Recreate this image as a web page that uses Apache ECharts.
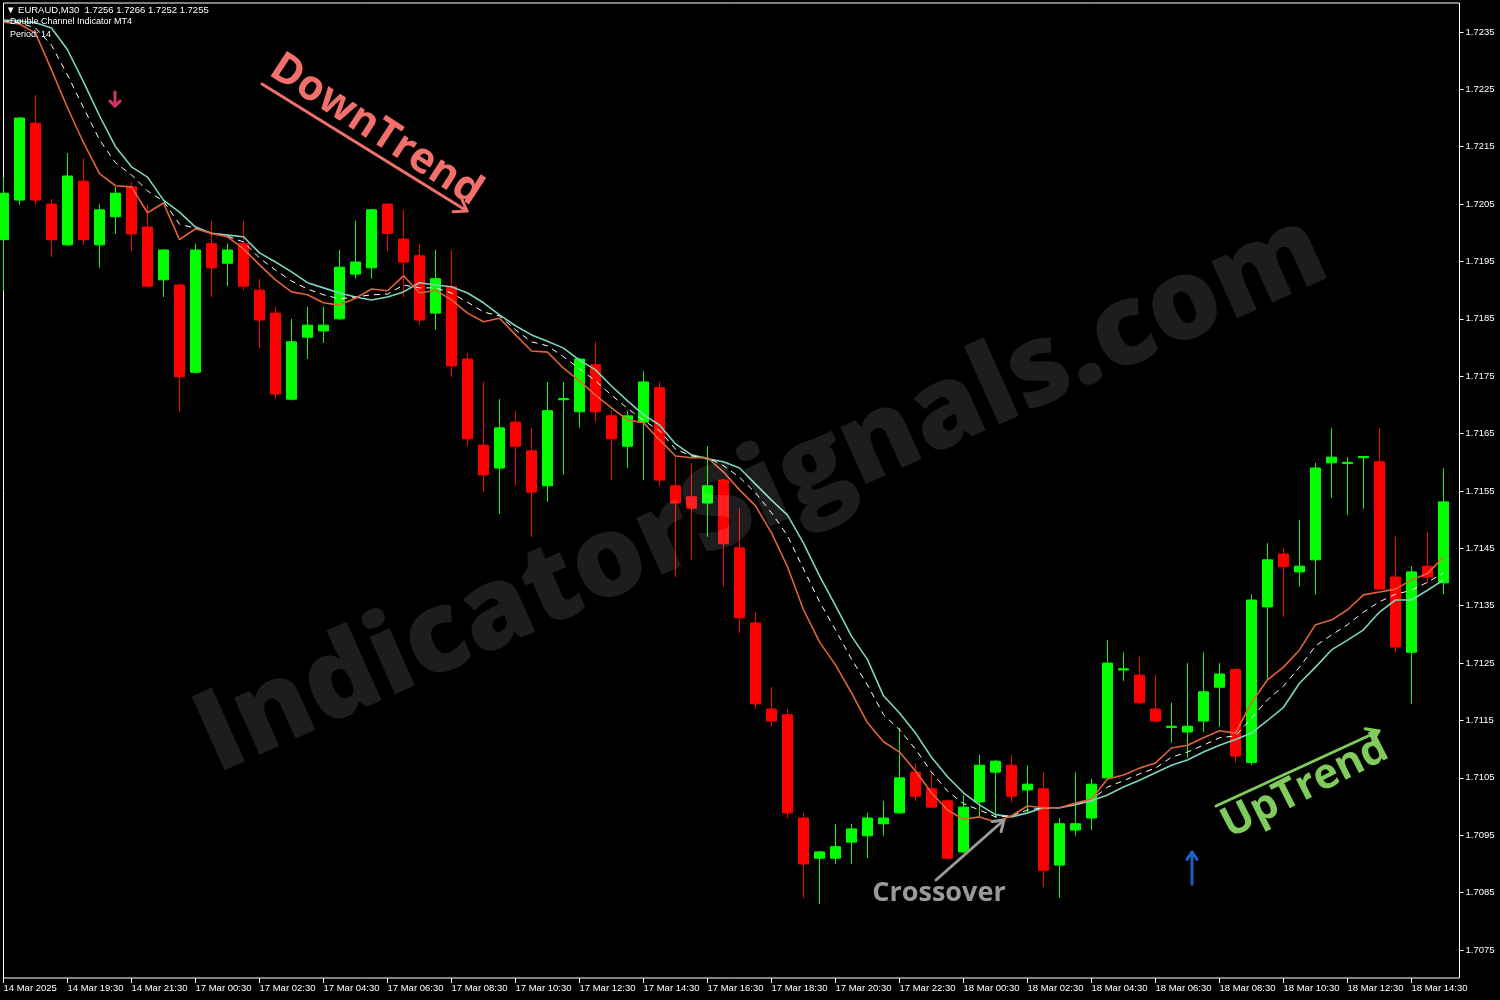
<!DOCTYPE html>
<html><head><meta charset="utf-8">
<script src="https://cdn.jsdelivr.net/npm/echarts@6/dist/echarts.min.js"></script>
<style>html,body{margin:0;padding:0;background:#000;overflow:hidden}#c{width:1500px;height:1000px}</style>
</head><body><div id="c"></div>
<script>
const tickLabels = ['14 Mar 2025','14 Mar 19:30','14 Mar 21:30','17 Mar 00:30','17 Mar 02:30','17 Mar 04:30','17 Mar 06:30','17 Mar 08:30','17 Mar 10:30','17 Mar 12:30','17 Mar 14:30','17 Mar 16:30','17 Mar 18:30','17 Mar 20:30','17 Mar 22:30','18 Mar 00:30','18 Mar 02:30','18 Mar 04:30','18 Mar 06:30','18 Mar 08:30','18 Mar 10:30','18 Mar 12:30','18 Mar 14:30'];
const yTicks = [1.7075,1.7085,1.7095,1.7105,1.7115,1.7125,1.7135,1.7145,1.7155,1.7165,1.7175,1.7185,1.7195,1.7205,1.7215,1.7225,1.7235];
// [open, close, low, high]
const candles = [
[1.71988,1.72069,1.71899,1.72097],[1.72057,1.72200,1.72049,1.72202],[1.72191,1.72057,1.72049,1.72240],[1.72050,1.71988,1.71958,1.72059],
[1.71979,1.72099,1.71977,1.72139],[1.72090,1.71988,1.71979,1.72130],[1.71979,1.72040,1.71939,1.72050],[1.72028,1.72069,1.71998,1.72080],
[1.72080,1.71998,1.71968,1.72089],[1.72010,1.71907,1.71905,1.72049],[1.71918,1.71970,1.71888,1.71972],[1.71909,1.71749,1.71688,1.71911],
[1.71757,1.71970,1.71755,1.71981],[1.71981,1.71939,1.71888,1.72021],[1.71947,1.71970,1.71907,1.71981],[1.71981,1.71907,1.71900,1.72021],
[1.71900,1.71848,1.71799,1.71920],[1.71860,1.71719,1.71710,1.71871],[1.71710,1.71810,1.71708,1.71850],[1.71818,1.71839,1.71780,1.71871],
[1.71829,1.71839,1.71808,1.71871],[1.71850,1.71940,1.71848,1.71970],[1.71928,1.71949,1.71920,1.72021],[1.71939,1.72040,1.71920,1.72042],
[1.72050,1.71999,1.71968,1.72052],[1.71989,1.71949,1.71888,1.72040],[1.71960,1.71848,1.71839,1.71981],[1.71860,1.71920,1.71831,1.71970],
[1.71906,1.71768,1.71749,1.71970],[1.71780,1.71641,1.71628,1.71791],[1.71630,1.71578,1.71548,1.71740],[1.71590,1.71660,1.71510,1.71710],
[1.71670,1.71628,1.71559,1.71690],[1.71620,1.71548,1.71470,1.71660],[1.71559,1.71690,1.71531,1.71740],[1.71709,1.71711,1.71578,1.71740],
[1.71688,1.71780,1.71660,1.71782],[1.71770,1.71688,1.71670,1.71810],[1.71681,1.71641,1.71569,1.71690],[1.71628,1.71681,1.71590,1.71690],
[1.71670,1.71740,1.71569,1.71759],[1.71730,1.71569,1.71559,1.71740],[1.71559,1.71529,1.71400,1.71609],[1.71540,1.71520,1.71430,1.71599],
[1.71529,1.71559,1.71470,1.71628],[1.71569,1.71458,1.71383,1.71571],[1.71451,1.71329,1.71302,1.71520],[1.71320,1.71179,1.71170,1.71339],
[1.71170,1.71149,1.71140,1.71208],[1.71160,1.70989,1.70980,1.71170],[1.70980,1.70900,1.70841,1.70989],[1.70910,1.70921,1.70830,1.70923],
[1.70910,1.70930,1.70900,1.70970],[1.70938,1.70961,1.70900,1.70970],[1.70949,1.70980,1.70910,1.70989],[1.70970,1.70980,1.70949,1.71010],
[1.70989,1.71050,1.70987,1.71137],[1.71060,1.71018,1.71010,1.71075],[1.71031,1.70999,1.70997,1.71060],[1.71010,1.70910,1.70908,1.71012],
[1.70921,1.70999,1.70919,1.71020],[1.71008,1.71072,1.70980,1.71090],[1.71060,1.71079,1.70980,1.71081],[1.71072,1.71018,1.71008,1.71090],
[1.71029,1.71039,1.70989,1.71072],[1.71031,1.70889,1.70860,1.71060],[1.70898,1.70970,1.70841,1.70980],[1.70959,1.70970,1.70949,1.71060],
[1.70980,1.71039,1.70959,1.71048],[1.71050,1.71250,1.71048,1.71290],[1.71238,1.71240,1.71219,1.71269],[1.71229,1.71181,1.71179,1.71261],
[1.71170,1.71149,1.71147,1.71229],[1.71138,1.71140,1.71111,1.71181],[1.71130,1.71140,1.71085,1.71250],[1.71149,1.71200,1.71130,1.71269],
[1.71208,1.71231,1.71139,1.71250],[1.71239,1.71088,1.71077,1.71241],[1.71077,1.71360,1.71072,1.71370],[1.71348,1.71430,1.71221,1.71459],
[1.71440,1.71418,1.71330,1.71451],[1.71409,1.71419,1.71383,1.71499],[1.71430,1.71590,1.71369,1.71599],[1.71599,1.71609,1.71538,1.71660],
[1.71598,1.71600,1.71508,1.71609],[1.71608,1.71610,1.71519,1.71611],[1.71601,1.71379,1.71377,1.71660],[1.71400,1.71278,1.71269,1.71470],
[1.71269,1.71409,1.71179,1.71419],[1.71419,1.71400,1.71390,1.71479],[1.71390,1.71531,1.71370,1.71590]
];
const orangeLine = [1.72367,1.72364,1.72348,1.72284,1.72218,1.72157,1.72103,1.72082,1.72080,1.72035,1.72052,1.71988,1.72007,1.71999,1.71993,1.71972,1.71944,1.71918,1.71897,1.71892,1.71878,1.71874,1.71886,1.71902,1.71899,1.71925,1.71895,1.71900,1.71883,1.71860,1.71845,1.71851,1.71822,1.71794,1.71792,1.71764,1.71742,1.71717,1.71695,1.71674,1.71669,1.71639,1.71611,1.71608,1.71608,1.71583,1.71552,1.71524,1.71477,1.71418,1.71343,1.71287,1.71247,1.71198,1.71146,1.71113,1.71095,1.71062,1.71024,1.70994,1.70978,1.70982,1.70973,1.70984,1.71001,1.70998,1.70998,1.71006,1.71013,1.71048,1.71055,1.71067,1.71076,1.71102,1.71107,1.71120,1.71132,1.71128,1.71181,1.71221,1.71243,1.71273,1.71317,1.71325,1.71343,1.71369,1.71374,1.71379,1.71395,1.71406,1.71435];
const aquaLine = [1.72371,1.72369,1.72366,1.72357,1.72319,1.72263,1.72204,1.72150,1.72115,1.72097,1.72057,1.72036,1.72010,1.71999,1.71996,1.71993,1.71965,1.71949,1.71932,1.71913,1.71904,1.71895,1.71888,1.71883,1.71888,1.71897,1.71913,1.71909,1.71906,1.71895,1.71878,1.71857,1.71838,1.71822,1.71811,1.71799,1.71778,1.71761,1.71733,1.71707,1.71683,1.71665,1.71632,1.71613,1.71606,1.71601,1.71590,1.71562,1.71534,1.71508,1.71459,1.71402,1.71350,1.71297,1.71256,1.71193,1.71163,1.71128,1.71086,1.71052,1.71024,1.71003,1.70986,1.70982,1.70989,1.70998,1.70998,1.71003,1.71010,1.71020,1.71034,1.71046,1.71059,1.71072,1.71081,1.71095,1.71107,1.71117,1.71128,1.71150,1.71173,1.71215,1.71243,1.71273,1.71290,1.71308,1.71339,1.71360,1.71360,1.71377,1.71395];
const whiteLine = [1.72369,1.72366,1.72357,1.72327,1.72275,1.72218,1.72162,1.72122,1.72101,1.72073,1.72055,1.72015,1.72008,1.71999,1.71994,1.71984,1.71956,1.71935,1.71916,1.71902,1.71892,1.71885,1.71888,1.71892,1.71893,1.71909,1.71904,1.71904,1.71895,1.71879,1.71862,1.71855,1.71831,1.71810,1.71803,1.71784,1.71763,1.71742,1.71717,1.71694,1.71673,1.71655,1.71623,1.71611,1.71608,1.71594,1.71574,1.71547,1.71512,1.71472,1.71414,1.71357,1.71308,1.71257,1.71212,1.71160,1.71134,1.71100,1.71060,1.71027,1.71005,1.70994,1.70982,1.70984,1.70994,1.70998,1.70998,1.71005,1.71012,1.71034,1.71045,1.71057,1.71067,1.71086,1.71095,1.71107,1.71120,1.71123,1.71154,1.71186,1.71210,1.71243,1.71280,1.71299,1.71317,1.71339,1.71357,1.71370,1.71377,1.71391,1.71407];

const categories = [];
for (let i = 0; i <= candles.length; i++) {
  categories.push(i % 4 === 0 && tickLabels[i / 4] ? tickLabels[i / 4] : '');
}

function arrow(x1, y1, x2, y2, color, w, len, ang) {
  const dx = x2 - x1, dy = y2 - y1, L = Math.hypot(dx, dy);
  const ux = -dx / L, uy = -dy / L;
  const c = Math.cos(ang), s = Math.sin(ang);
  const a = [x2 + len * (ux * c - uy * s), y2 + len * (ux * s + uy * c)];
  const b = [x2 + len * (ux * c + uy * s), y2 + len * (-ux * s + uy * c)];
  return [
    {type: 'line', z: 50, shape: {x1, y1, x2, y2}, style: {stroke: color, lineWidth: w, lineCap: 'round'}},
    {type: 'polyline', z: 50, shape: {points: [a, [x2, y2], b]}, style: {stroke: color, lineWidth: w, fill: null, lineCap: 'round', lineJoin: 'round'}}
  ];
}

const chart = echarts.init(document.getElementById('c'), null, {renderer: 'canvas'});
const lf = 'Liberation Sans, Arial, sans-serif';
chart.setOption({
  backgroundColor: '#000',
  animation: false,
  grid: {left: 3.5, right: 40.5, top: 3, bottom: 22, show: true, borderColor: '#ffffff', borderWidth: 1, containLabel: false},
  xAxis: {
    type: 'category', data: categories, boundaryGap: false,
    axisLine: {show: false},
    axisTick: {show: true, interval: (i) => i % 4 === 0, length: 5, lineStyle: {color: '#ffffff'}},
    axisLabel: {interval: (i) => i % 4 === 0, align: 'left', color: '#ffffff', fontSize: 9.5, fontFamily: lf, margin: 5},
    splitLine: {show: false}
  },
  yAxis: {
    type: 'value', position: 'right', min: 1.707012, max: 1.724005, scale: true,
    axisLine: {show: false},
    axisTick: {show: true, customValues: yTicks, length: 4, lineStyle: {color: '#ffffff'}},
    axisLabel: {customValues: yTicks, formatter: (v) => v.toFixed(4), color: '#ffffff', fontSize: 9.5, fontFamily: lf, margin: 6},
    splitLine: {show: false}
  },
  series: [
    {type: 'candlestick', data: candles, barWidth: 11, z: 2,
     itemStyle: {color: '#00ff00', color0: '#ff0000', borderColor: '#00ff00', borderColor0: '#ff0000', borderWidth: 1}},
    {type: 'line', data: aquaLine, symbol: 'none', z: 4, lineStyle: {color: '#7fd3c3', width: 1.6}},
    {type: 'line', data: whiteLine, symbol: 'none', z: 4, lineStyle: {color: '#ffffff', width: 1, type: [6, 5]}},
    {type: 'line', data: orangeLine, symbol: 'none', z: 4, lineStyle: {color: '#e0633a', width: 1.6}}
  ],
  graphic: [
    {type: 'text', z: 60, x: 6, y: 10, style: {text: '▼ EURAUD,M30  1.7256 1.7266 1.7252 1.7255', fill: '#ffffff', font: '9.5px Liberation Sans', verticalAlign: 'middle'}},
    {type: 'text', z: 60, x: 10, y: 22, style: {text: 'Double Channel Indicator MT4', fill: '#ffffff', font: '9px Liberation Sans', verticalAlign: 'middle'}},
    {type: 'text', z: 60, x: 10, y: 35, style: {text: 'Period: 14', fill: '#ffffff', font: '9px Liberation Sans', verticalAlign: 'middle'}},
    {type: 'text', z: 40, x: 762, y: 495, rotation: 0.42,
     style: {text: 'IndicatorSignals.com', fill: 'rgba(255,255,255,0.115)', font: '800 113px Open Sans', align: 'center', verticalAlign: 'middle'}},
    {type: 'text', z: 50, x: 376, y: 130, rotation: -0.575,
     style: {text: 'DownTrend', fill: '#f2706b', font: 'bold 42px Open Sans', align: 'center', verticalAlign: 'middle'}},
    ...arrow(262, 84, 467, 211, '#f2706b', 3, 14, 0.6),
    {type: 'text', z: 50, x: 1305, y: 787, rotation: 0.47,
     style: {text: 'UpTrend', fill: '#7fcb5c', font: 'bold 42px Open Sans', align: 'center', verticalAlign: 'middle'}},
    ...arrow(1216, 806, 1379, 731, '#7fcb5c', 3, 14, 0.6),
    {type: 'text', z: 50, x: 939, y: 893, style: {text: 'Crossover', fill: '#9a9a9a', font: 'bold 27px Open Sans', align: 'center', verticalAlign: 'middle'}},
    ...arrow(936, 880, 1004, 820, '#9a9a9a', 3, 12, 0.6),
    ...arrow(115, 92, 115, 106, '#d6336b', 3, 7, 0.8),
    ...arrow(1192, 884, 1192, 852, '#1f5fbf', 3, 9, 0.6)
  ]
});
</script></body></html>
